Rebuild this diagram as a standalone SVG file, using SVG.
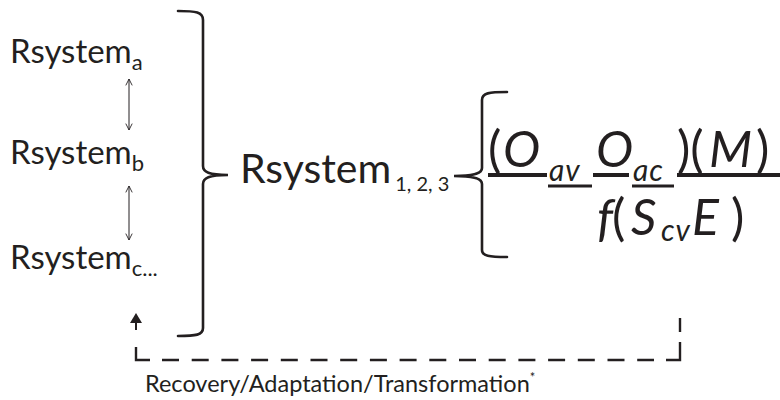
<svg xmlns="http://www.w3.org/2000/svg" width="780" height="400" viewBox="0 0 780 400">
  <defs>
    <style>
      text { font-family: Lato, "Open Sans", "DejaVu Sans", sans-serif; fill: #231f20; }
      .lbl { font-size: 33px; }
      .sub { font-size: 22px; }
      .big { font-size: 41px; }
      .bsub { font-size: 20px; }
      .math { font-size: 50px; }
      .msub { font-size: 30px; letter-spacing: 1px; }
      .it { font-style: italic; }
      .note { font-size: 23.5px; }
      .brace { fill: none; stroke: #231f20; stroke-width: 2.6; stroke-linecap: round; }
      .thin { fill: none; stroke: #231f20; stroke-width: 1; }
      .bar { stroke: #231f20; stroke-width: 4; }
      .ubar { stroke: #231f20; stroke-width: 3; }
      .loop { fill: none; stroke: #231f20; stroke-width: 2.4; }
      .dash { stroke-dasharray: 17 12.7; }
    </style>
    <marker id="open" viewBox="0 0 10 10" refX="9" refY="5" markerWidth="8" markerHeight="8" orient="auto-start-reverse" markerUnits="userSpaceOnUse">
      <path d="M1,1 L9,5 L1,9" fill="none" stroke="#231f20" stroke-width="1.1"/>
    </marker>
  </defs>

  <!-- subsystem labels -->
  <g id="rsystem-a">
    <text class="lbl" x="10" y="63">Rsystem<tspan class="sub" dy="7">a</tspan></text>
  </g>
  <g id="rsystem-b">
    <text class="lbl" x="10" y="164">Rsystem<tspan class="sub" dy="7">b</tspan></text>
  </g>
  <g id="rsystem-c">
    <text class="lbl" x="10" y="269">Rsystem<tspan class="sub" dy="7">c...</tspan></text>
  </g>

  <!-- grouping brace -->
  <g id="brace-left">
    <path class="brace" d="M178,11 C196,11 203,12 203,20 L203,166 C203,172 209,175 228,175 C209,175 203,178 203,184 L203,328 C203,335 196,336 178,336"/>
  </g>

  <!-- combined system -->
  <g id="rsystem-123">
    <text class="big" x="240" y="183">Rsystem<tspan class="bsub" dx="4" dy="8">1, 2, 3</tspan></text>
  </g>

  <g id="brace-right">
    <path class="brace" d="M507,92 C489,92 482,93 482,100 L482,168 C482,173 476,176 454,176 C476,176 482,179 482,184 L482,250 C482,256 489,257 507,257"/>
  </g>

  <!-- resilience expression -->
  <g id="formula">
    <text class="math" y="167"><tspan x="488">(</tspan><tspan class="it" x="503">O</tspan><tspan class="it msub" x="549" y="181">av</tspan><tspan class="it" x="596" y="167">O</tspan><tspan class="it msub" x="633" y="181">ac</tspan><tspan x="677" y="167">)(</tspan><tspan class="it" x="709">M</tspan><tspan x="756">)</tspan></text>
    <line class="bar" x1="488" y1="175" x2="547" y2="175"/>
    <line class="bar" x1="593" y1="175" x2="629" y2="175"/>
    <line class="bar" x1="677" y1="175" x2="780" y2="175"/>
    <line class="ubar" x1="548" y1="186" x2="592" y2="186"/>
    <line class="ubar" x1="632" y1="186" x2="674" y2="186"/>
    <text class="math" y="235"><tspan class="it" x="597">f</tspan><tspan x="612">(</tspan><tspan class="it" x="631">S</tspan><tspan class="it msub" x="661" y="241">cv</tspan><tspan class="it" x="692" y="235">E</tspan><tspan x="731">)</tspan></text>
  </g>

  <!-- connectors -->
  <g id="connectors">
    <line class="thin" x1="129" y1="79" x2="129" y2="130" marker-start="url(#open)" marker-end="url(#open)"/>
    <line class="thin" x1="129" y1="186" x2="129" y2="240" marker-start="url(#open)" marker-end="url(#open)"/>
    <path d="M136,313 L130,323 L142,323 Z" fill="#231f20"/>
    <line x1="136" y1="322" x2="136" y2="330" stroke="#231f20" stroke-width="2"/>
    <!-- feedback loop: solid corners, dashed run between them -->
    <path class="loop" d="M136,347 V360 H150"/>
    <path class="loop dash" d="M162,360 H654"/>
    <path class="loop" d="M666,360 H680 V342"/>
    <path class="loop" d="M680,318 V332"/>
  </g>

  <g id="feedback-label">
    <text class="note" x="145" y="392">Recovery/Adaptation/Transformation<tspan font-size="13" dy="-10">*</tspan></text>
  </g>
</svg>
